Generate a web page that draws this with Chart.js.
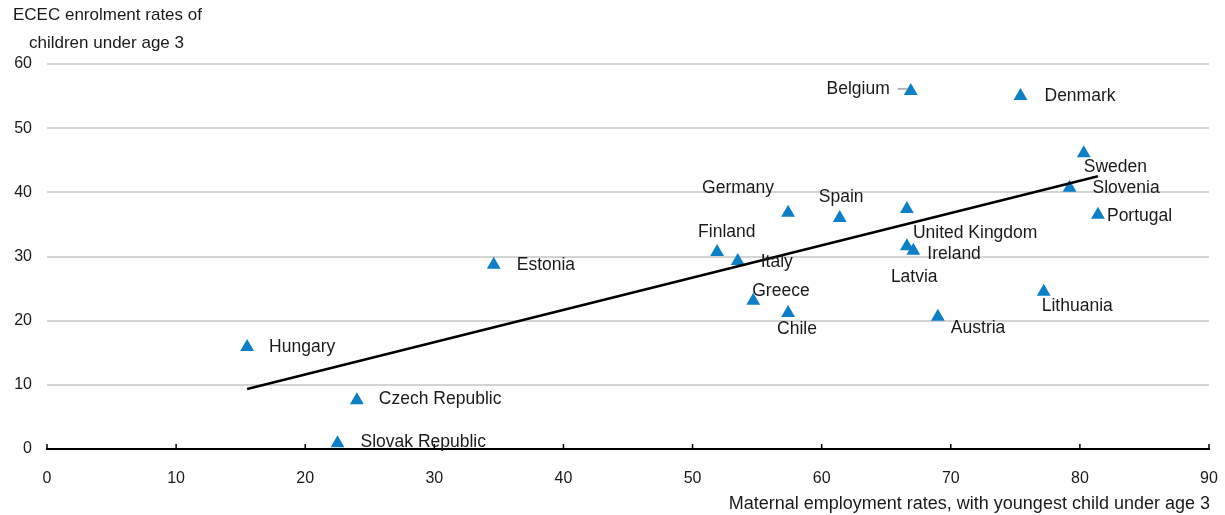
<!DOCTYPE html>
<html>
<head>
<meta charset="utf-8">
<script src="https://cdn.jsdelivr.net/npm/chart.js@4/dist/chart.umd.min.js"></script>
<style>
  html, body { margin: 0; padding: 0; background: #fff; }
  #wrap { width: 1225px; height: 515px; position: relative; }
</style>
</head>
<body>
<div id="wrap"><canvas id="chart"></canvas></div>
<script>
var countries = ['Belgium', 'Denmark', 'Sweden', 'Slovenia', 'Portugal', 'Germany', 'Spain',
    'Latvia', 'United Kingdom', 'Ireland', 'Finland', 'Italy', 'Estonia', 'Greece', 'Chile',
    'Austria', 'Lithuania', 'Hungary', 'Czech Republic', 'Slovak Republic'];
var maternalEmployment = [66.9, 75.4, 80.3, 79.2, 81.4, 57.4, 61.4,
    66.6, 66.6, 67.1, 51.9, 53.5, 34.6, 54.7, 57.4,
    69.0, 77.2, 15.5, 24.0, 22.5];
var ececEnrolment = [55.8, 55.0, 46.1, 40.7, 36.5, 36.8, 36.0,
    37.4, 31.6, 30.9, 30.7, 29.3, 28.7, 23.1, 21.2,
    20.6, 24.5, 15.9, 7.6, 0.9];
var trendX = [15.5, 81.4];
var trendY = [9.35, 42.5];
var xTicks = [0, 10, 20, 30, 40, 50, 60, 70, 80, 90];
var yTicks = [0, 10, 20, 30, 40, 50, 60];

// where each country name sits relative to its marker (pixels)
var labelOffsets = {
    'Belgium': [-21, -2, 'right'], 'Denmark': [24, 0], 'Sweden': [0, 14], 'Slovenia': [23, 0],
    'Portugal': [9, 1], 'Germany': [-86, -25], 'Spain': [-21, -21], 'Latvia': [-16, 68],
    'United Kingdom': [6, -13], 'Ireland': [14, 3], 'Finland': [-19, -20], 'Italy': [23, 1],
    'Estonia': [23, 0], 'Greece': [-1, -10], 'Chile': [-11, 16], 'Austria': [13, 11],
    'Lithuania': [-2, 14], 'Hungary': [22, 0], 'Czech Republic': [22, -1], 'Slovak Republic': [23, -1]
};

var FONT = '"Liberation Sans", Arial, sans-serif';

var points = [];
for (var i = 0; i < countries.length; i++) {
    points.push({x: maternalEmployment[i], y: ececEnrolment[i], name: countries[i]});
}
var trend = [];
for (var j = 0; j < trendX.length; j++) {
    trend.push({x: trendX[j], y: trendY[j]});
}

var extras = {
    id: 'extras',
    afterDatasetsDraw: function(chart) {
        var ctx = chart.ctx;
        var xs = chart.scales.x, ys = chart.scales.y;
        ctx.save();
        // inward tick marks on x axis
        ctx.strokeStyle = '#000';
        ctx.lineWidth = 1.5;
        xTicks.forEach(function(t) {
            var px = xs.getPixelForValue(t);
            ctx.beginPath();
            ctx.moveTo(px, ys.bottom);
            ctx.lineTo(px, ys.bottom - 5);
            ctx.stroke();
        });
        // country labels
        ctx.font = '17.5px ' + FONT;
        ctx.fillStyle = '#1a1a1a';
        ctx.textBaseline = 'middle';
        points.forEach(function(p) {
            var off = labelOffsets[p.name];
            var px = xs.getPixelForValue(p.x), py = ys.getPixelForValue(p.y);
            ctx.textAlign = off[2] || 'left';
            ctx.fillText(p.name, px + off[0], py + off[1]);
            if (p.name === 'Belgium') {
                ctx.strokeStyle = '#a0a0a0';
                ctx.lineWidth = 1.5;
                ctx.beginPath();
                ctx.moveTo(px - 13, py - 2);
                ctx.lineTo(px - 3, py - 2);
                ctx.stroke();
            }
        });
        // axis titles
        ctx.font = '17px ' + FONT;
        ctx.textAlign = 'left';
        ctx.fillText('ECEC enrolment rates of', 13, 15);
        ctx.fillText('children under age 3', 29, 43);
        ctx.font = '18px ' + FONT;
        ctx.textAlign = 'right';
        ctx.fillText('Maternal employment rates, with youngest child under age 3', 1210, 504);
        ctx.restore();
    }
};

new Chart(document.getElementById('chart').getContext('2d'), {
    type: 'scatter',
    data: {
        datasets: [
            {
                label: 'Trend',
                type: 'line',
                data: trend,
                borderColor: '#000',
                borderWidth: 2.5,
                pointRadius: 0,
                fill: false,
                order: 1
            },
            {
                label: 'Countries',
                data: points,
                pointStyle: 'triangle',
                pointRadius: 8,
                backgroundColor: '#0b7fc7',
                borderColor: '#0b7fc7',
                borderWidth: 0,
                order: 2
            }
        ]
    },
    options: {
        responsive: true,
        maintainAspectRatio: false,
        animation: false,
        layout: { padding: { top: 64, right: 16, left: 0, bottom: 0 } },
        plugins: {
            legend: { display: false },
            tooltip: { enabled: false }
        },
        scales: {
            x: {
                type: 'linear',
                min: 0,
                max: 90,
                afterBuildTicks: function(s) { s.ticks = xTicks.map(function(v) { return {value: v}; }); },
                afterFit: function(s) { s.height = 66; s.paddingLeft = 0; s.paddingRight = 0; },
                grid: { display: false },
                border: { display: true, color: '#000', width: 2 },
                ticks: { padding: 12, color: '#1a1a1a', font: { family: FONT, size: 16 } }
            },
            y: {
                type: 'linear',
                min: 0,
                max: 60,
                afterBuildTicks: function(s) { s.ticks = yTicks.map(function(v) { return {value: v}; }); },
                afterFit: function(s) { s.width = 47; },
                grid: { color: '#d4d4d4', lineWidth: 2, drawTicks: false },
                border: { display: false },
                ticks: { padding: 15, color: '#1a1a1a', font: { family: FONT, size: 16 } }
            }
        }
    },
    plugins: [extras]
});
</script>
</body>
</html>
